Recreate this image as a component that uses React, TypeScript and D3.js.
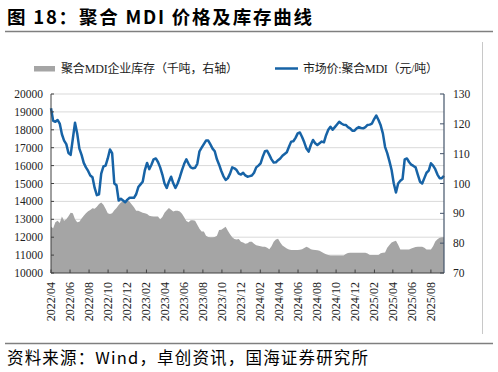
import React from 'react';
import * as d3 from 'd3';

// weekly series, first week 2022-04-01
const firstWeek = '2022-04-01';
const lastDay = '2025-09-12';

// 市场价:聚合MDI (元/吨), left axis
const priceValues: number[] = [
    19200, 18500, 18450, 18550, 18350, 17750, 17400, 17200, 16700, 16600,
    17500, 18400, 17800, 16950, 16600, 16150, 15900, 15700, 15450, 15350,
    14750, 14350, 14400, 15550, 15950, 16000, 16400, 16900, 16700, 15000,
    14900, 14050, 14150, 14050, 13950, 14100, 14200, 14200, 14200, 14400,
    14800, 14950, 15100, 15750, 16150, 15800, 16050, 16350, 16400, 16200,
    15900, 15500, 15000, 14750, 15100, 15380, 15010, 14750, 15000, 15350,
    15750, 16100, 16350, 16100, 15900, 15850, 15880, 16100, 16800, 17000,
    17200, 17400, 17400, 17180, 16950, 16800, 16350, 16050, 15700, 15400,
    15200, 15300, 15550, 15900, 15850, 15750, 15550, 15500, 15600, 15450,
    15380, 15410, 15450, 15600, 15900, 16000, 16130, 16500, 16800, 16830,
    16600, 16350, 16170, 16180, 16300, 16400, 16550, 16650, 16750, 17050,
    17340, 17360, 17550, 17800, 17850, 17600, 17300, 16950, 16780, 17150,
    17430, 17250, 17150, 17250, 17340, 17300, 17700, 18000, 18170, 18000,
    18150, 18300, 18450, 18350, 18280, 18270, 18150, 18080, 17950, 17950,
    18080, 18150, 18100, 18080, 18150, 18270, 18290, 18350, 18600, 18800,
    18550, 18250, 17800, 17050, 16700, 16250, 15750, 15000, 14500, 15000,
    15150, 15250, 16350, 16400, 16200, 16050, 15980, 15900, 15500, 15100,
    15000, 15300, 15600, 15720, 16130, 16000, 15800, 15500, 15300, 15300,
    15420,
];

// 聚合MDI企业库存 (千吨), right axis
const inventoryValues: number[] = [
    85.5, 85.0, 87.0, 87.5, 86.8, 88.9, 87.5, 88.0, 89.0, 90.2,
    90.0, 88.0, 87.0, 87.2, 88.3, 89.2, 90.0, 90.7, 91.1, 91.7,
    91.5, 92.2, 93.1, 93.6, 92.9, 91.5, 90.0, 89.8, 90.0, 91.0,
    91.8, 92.8, 93.6, 94.0, 94.2, 94.5, 93.9, 93.0, 92.0, 90.9,
    90.9, 90.5, 90.2, 90.0, 89.8, 89.2, 89.0, 88.9, 88.9, 88.9,
    88.0, 88.8, 90.2, 91.0, 91.8, 91.2, 90.6, 90.9, 90.9, 90.6,
    89.9, 88.7, 87.4, 87.0, 87.7, 87.7, 87.5, 86.2, 84.8, 83.9,
    83.9, 82.5, 82.1, 82.0, 82.0, 82.1, 82.5, 84.4, 84.5, 85.0,
    85.5, 84.2, 83.0, 82.0, 81.4, 81.2, 81.4, 80.5, 80.2, 79.8,
    80.0, 80.5, 80.5, 79.8, 79.3, 79.1, 79.0, 78.8, 78.8, 78.5,
    78.0, 79.0, 80.5, 81.2, 81.5, 80.2, 79.2, 78.7, 78.2, 77.9,
    77.7, 77.7, 77.7, 77.7, 77.8, 78.0, 78.4, 78.8, 78.5, 78.0,
    77.8, 77.7, 77.6, 77.5, 77.0, 76.6, 76.3, 76.0, 75.9, 75.9,
    75.9, 75.9, 75.9, 75.9, 75.9, 76.4, 76.7, 76.8, 76.8, 76.8,
    76.8, 76.8, 76.8, 76.8, 76.8, 76.5, 76.0, 76.0, 76.0, 76.0,
    76.0, 76.6, 76.8, 76.9, 78.5, 79.4, 80.2, 80.6, 80.8, 79.5,
    77.9, 77.9, 77.9, 77.9, 77.9, 78.2, 78.5, 78.7, 78.8, 78.8,
    78.8, 78.5, 77.9, 77.9, 77.9, 79.0, 80.6, 81.3, 81.8, 82.0,
    82.0,
];

const xTickLabels = [
    '2022/04', '2022/06', '2022/08', '2022/10', '2022/12', '2023/02', '2023/04',
    '2023/06', '2023/08', '2023/10', '2023/12', '2024/02', '2024/04', '2024/06',
    '2024/08', '2024/10', '2024/12', '2025/02', '2025/04', '2025/06', '2025/08',
];
const leftTicks = [10000, 11000, 12000, 13000, 14000, 15000, 16000, 17000, 18000, 19000, 20000];
const rightTicks = [70, 80, 90, 100, 110, 120, 130];

const legendInventory = '聚合MDI企业库存（千吨，右轴）';
const legendPrice = '市场价:聚合MDI（元/吨）';
const title = '图 18：聚合 MDI 价格及库存曲线';
const source = '资料来源：Wind，卓创资讯，国海证券研究所';

const W = 498;
const H = 372;
const plot = { left: 51, right: 444, top: 94, bottom: 273 };

const serif = '"Liberation Serif", "Times New Roman", "Noto Sans CJK SC", serif';
const cjk = '"Noto Sans CJK SC", "Liberation Sans", sans-serif';

export default function App() {
    const parse = d3.timeParse('%Y-%m-%d');
    const start = parse(firstWeek) as Date;
    const end = parse(lastDay) as Date;
    const dates = priceValues.map((_, i) => d3.timeDay.offset(start, 7 * i));

    const x = d3.scaleTime().domain([start, end]).range([plot.left, plot.right]);
    const yL = d3.scaleLinear().domain([10000, 20000]).range([plot.bottom, plot.top]);
    const yR = d3.scaleLinear().domain([70, 130]).range([plot.bottom, plot.top]);

    const area = d3.area<number>()
        .x((_, i) => x(dates[i]))
        .y0(yR(70))
        .y1(d => yR(d));
    const line = d3.line<number>()
        .x((_, i) => x(dates[i]))
        .y(d => yL(d));

    const monthParse = d3.timeParse('%Y/%m');

    return (
        <svg width={W} height={H} style={{ position: 'absolute', left: 0, top: 0, background: '#fff' }}>
            <rect width={W} height={H} fill="#fff" />
            {/* title */}
            <text x={7} y={24} fontFamily={cjk} fontWeight="bold" fontSize={18.5} fill="#000"
                textLength={305} lengthAdjust="spacing">{title}</text>
            <line x1={5} x2={493} y1={31.5} y2={31.5} stroke="#7f7f7f" strokeWidth={1.5} />
            <line x1={482.5} x2={482.5} y1={42} y2={334} stroke="#c8c8c8" strokeWidth={1} />

            {/* legend */}
            <rect x={34} y={66} width={21} height={5.5} fill="#a5a5a5" />
            <text x={61} y={73} fontFamily={serif} fontSize={12} fill="#222"
                textLength={177} lengthAdjust="spacing">{legendInventory}</text>
            <line x1={275} x2={298} y1={68.5} y2={68.5} stroke="#1763a6" strokeWidth={2.5} />
            <text x={303} y={73} fontFamily={serif} fontSize={12} fill="#222"
                textLength={135} lengthAdjust="spacing">{legendPrice}</text>

            {/* grid */}
            {leftTicks.slice(1).map(t => (
                <line key={t} x1={plot.left} x2={plot.right} y1={yL(t)} y2={yL(t)}
                    stroke="#d9d9d9" strokeWidth={1} />
            ))}

            {/* inventory area */}
            <path d={area(inventoryValues) ?? ''} fill="#a5a5a5" />
            {/* price line */}
            <path d={line(priceValues) ?? ''} fill="none" stroke="#1763a6" strokeWidth={2.5}
                strokeLinejoin="round" />

            {/* left axis */}
            <line x1={plot.left} x2={plot.left} y1={plot.top} y2={plot.bottom} stroke="#404040" />
            {leftTicks.map(t => (
                <g key={t}>
                    <line x1={plot.left} x2={plot.left + 3} y1={yL(t)} y2={yL(t)} stroke="#404040" />
                    <text x={43} y={yL(t) + 4} textAnchor="end" fontFamily={serif} fontSize={11.5} fill="#222">{t}</text>
                </g>
            ))}

            {/* right axis */}
            <line x1={plot.right} x2={plot.right} y1={plot.top} y2={plot.bottom} stroke="#44546a" strokeWidth={1.2} />
            {rightTicks.map(t => (
                <g key={t}>
                    <line x1={plot.right - 4} x2={plot.right} y1={yR(t)} y2={yR(t)} stroke="#44546a" />
                    <text x={453} y={yR(t) + 4} fontFamily={serif} fontSize={11.5} fill="#222">{t}</text>
                </g>
            ))}

            {/* bottom axis */}
            <line x1={plot.left} x2={plot.right} y1={plot.bottom} y2={plot.bottom} stroke="#404040" />
            {xTickLabels.map(lbl => {
                const px = x(monthParse(lbl) as Date);
                return (
                    <g key={lbl}>
                        <line x1={px} x2={px} y1={plot.bottom} y2={plot.bottom - 3.5} stroke="#404040" />
                        <text transform={`translate(${px + 4}, ${plot.bottom + 9}) rotate(-90)`}
                            textAnchor="end" fontFamily={serif} fontSize={12} fill="#222">{lbl}</text>
                    </g>
                );
            })}

            {/* source */}
            <line x1={5} x2={493} y1={343.5} y2={343.5} stroke="#7f7f7f" strokeWidth={1.5} />
            <text x={7} y={364} fontFamily={cjk} fontSize={16.5} fill="#000"
                textLength={361} lengthAdjust="spacing">{source}</text>
        </svg>
    );
}
